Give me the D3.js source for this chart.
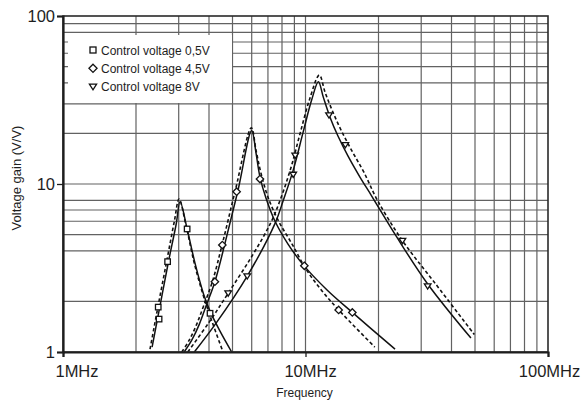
<!DOCTYPE html>
<html>
<head>
<meta charset="utf-8">
<script src="https://cdn.jsdelivr.net/npm/d3@7/dist/d3.min.js"></script>
<style>
    html, body { margin: 0; padding: 0; background: #fff; }
    #chart { width: 583px; height: 401px; }
    text { font-family: "Liberation Sans", Arial, sans-serif; fill: #1e1e1e; }
    .grid line { stroke: #626262; stroke-width: 1.2; }
    .axis path, .axis line { stroke: #1e1e1e; }
    .curve { fill: none; stroke: #111; stroke-width: 1.5; }
    .curve.dashed { stroke-dasharray: 3.5, 2.5; stroke-width: 1.6; }
    .marker { fill: #fff; stroke: #111; stroke-width: 1.3; }
</style>
</head>
<body>
<div id="chart"></div>
<script>

// frequencies in MHz, gain in V/V
const xTickValues = [1, 10, 100];
const xTickLabels = ["1MHz", "10MHz", "100MHz"];
const yTickValues = [1, 10, 100];
const yTickLabels = ["1", "10", "100"];

const xGridValues = [2, 3, 4, 5, 6, 7, 8, 9, 10, 20, 30, 40, 50, 60, 70, 80, 90];
const yGridValues = [2, 4, 5, 6, 7, 8, 10, 20, 30, 40, 50, 60, 70, 80, 90];

const seriesNames = ["Control voltage 0,5V", "Control voltage 4,5V", "Control voltage 8V"];
const markerTypes = ["square", "diamond", "triangle"];

// 0,5V
const solid05 = [[2.33, 1.07], [2.52, 1.93], [2.72, 3.43], [2.93, 5.78], [3.04, 7.85], [3.25, 5.4],
    [3.50, 3.39], [3.80, 2.21], [4.04, 1.75], [4.44, 1.33], [4.96, 1.0]];
const dashed05 = [[2.285, 1.04], [2.476, 1.93], [2.673, 3.43], [2.88, 6.02], [3.01, 8.14], [3.22, 5.62],
    [3.47, 3.43], [3.74, 2.31], [4.04, 1.64], [4.57, 1.0]];
const points05 = [[2.47, 1.85], [2.49, 1.57], [2.70, 3.45], [3.25, 5.4], [4.04, 1.70]];

// 4,5V
const solid45 = [[3.16, 1.0], [3.40, 1.18], [3.64, 1.45], [3.89, 1.88], [4.23, 2.62], [4.66, 4.46],
    [5.27, 9.21], [6.0, 20.8], [6.25, 15.3], [6.49, 11.0], [6.87, 8.26], [7.48, 6.02], [8.47, 4.39],
    [9.79, 3.30], [12.27, 2.34], [15.6, 1.72], [23.4, 1.04]];
const dashed45 = [[3.09, 1.0], [3.32, 1.18], [3.55, 1.45], [3.80, 1.88], [4.13, 2.62], [4.55, 4.46],
    [5.14, 9.21], [5.98, 21.6], [6.25, 15.9], [6.55, 11.63], [7.0, 8.37], [7.70, 6.11], [8.80, 4.39],
    [10.1, 3.08], [11.7, 2.31], [13.7, 1.78], [19.3, 1.07]];
const points45 = [[4.23, 2.62], [4.54, 4.33], [5.2, 9.0], [6.49, 10.7], [9.89, 3.26], [13.7, 1.78], [15.6, 1.72]];

// 8V
const solid8 = [[3.48, 1.0], [4.3, 1.5], [5.75, 2.83], [7.49, 5.83], [8.1, 8.0], [8.9, 12.1],
    [9.79, 20.5], [10.6, 31.6], [11.3, 40.6], [11.84, 32.9], [12.62, 25.0], [13.61, 19.3],
    [14.96, 14.7], [16.77, 11.0], [18.75, 8.48], [23.77, 4.84], [31.9, 2.54], [48.1, 1.21]];
const dashed8 = [[3.27, 1.0], [4.0, 1.5], [4.8, 2.24], [6.0, 3.7], [7.2, 5.9], [8.0, 8.6],
    [8.75, 12.8], [9.5, 20], [10.4, 32], [11.4, 44.5], [12.03, 35.3], [12.86, 27.6], [14.01, 20.96],
    [15.55, 15.72], [17.43, 11.71], [19.8, 8.0], [25.1, 4.6], [34.2, 2.57], [49.7, 1.27]];
const points8 = [[4.8, 2.24], [5.75, 2.83], [8.9, 11.4], [9.07, 14.8], [12.5, 25.7], [14.6, 17.1], [25.1, 4.6], [31.9, 2.47]];

const solidCurves = [solid05, solid45, solid8];
const dashedCurves = [dashed05, dashed45, dashed8];
const measuredPoints = [points05, points45, points8];

// label nudges, the original labels are not centred on their ticks
const xLabelShift = [13.5, 4.5, 1];


class makeGainChart {

    constructor(opts) {
        this.element = opts.element;
        this.update();
    }

    _setDimensions() {
        this.margin = {
            top: 16,
            right: 35,
            bottom: 49,
            left: 63
        };

        this.width = 583 - this.margin.left - this.margin.right;
        this.height = 401 - this.margin.top - this.margin.bottom;
    }

    update() {
        this._setDimensions();
        this.draw();
    }

    _marker(g, type, size) {
        let h = size / 2;
        if (type == "square") {
            g.append("rect")
                .attr("class", "marker")
                .attr("x", -h).attr("y", -h)
                .attr("width", size).attr("height", size);
        } else if (type == "diamond") {
            let d = h * 1.35;
            g.append("path")
                .attr("class", "marker")
                .attr("d", `M0,${-d}L${d},0L0,${d}L${-d},0Z`);
        } else {
            g.append("path")
                .attr("class", "marker")
                .attr("d", `M${-h * 1.2},${-h * 0.8}L${h * 1.2},${-h * 0.8}L0,${h * 1.1}Z`);
        }
    }

    draw() {
        this.element.innerHTML = "";

        this.svg = d3.select(this.element).append("svg")
            .attr("width", this.width + this.margin.left + this.margin.right)
            .attr("height", this.height + this.margin.top + this.margin.bottom);

        this.plot = this.svg.append("g")
            .attr("transform", `translate(${this.margin.left},${this.margin.top})`);

        this.x = d3.scaleLog().domain([1, 100]).range([0, this.width]);
        this.y = d3.scaleLog().domain([1, 100]).range([this.height, 0]);

        // grid
        let grid = this.plot.append("g").attr("class", "grid");

        grid.selectAll(".vgrid")
            .data(xGridValues)
            .enter().append("line")
            .attr("x1", d => this.x(d)).attr("x2", d => this.x(d))
            .attr("y1", 0).attr("y2", this.height);

        grid.selectAll(".hgrid")
            .data(yGridValues)
            .enter().append("line")
            .attr("x1", 0).attr("x2", this.width)
            .attr("y1", d => this.y(d)).attr("y2", d => this.y(d));

        // legend box sits on top of the grid, under the curves
        let legend = this.plot.append("g")
            .attr("transform", `translate(5,19)`);

        legend.append("rect")
            .attr("width", 164)
            .attr("height", 68)
            .attr("fill", "#fff");

        seriesNames.forEach((name, i) => {
            let row = legend.append("g")
                .attr("transform", `translate(25,${15 + i * 18.3})`);
            this._marker(row.append("g"), markerTypes[i], 6);
            row.append("text")
                .attr("x", 8)
                .attr("y", 4.5)
                .attr("font-size", "12px")
                .text(name);
        });

        // curves
        let line = d3.line()
            .x(d => this.x(d[0]))
            .y(d => this.y(d[1]))
            .curve(d3.curveCatmullRom.alpha(0.5));

        let curves = this.plot.append("g").attr("class", "curves");

        curves.selectAll(".dashed")
            .data(dashedCurves)
            .enter().append("path")
            .attr("class", "curve dashed")
            .attr("d", line);

        curves.selectAll(".solid")
            .data(solidCurves)
            .enter().append("path")
            .attr("class", "curve solid")
            .attr("d", line);

        measuredPoints.forEach((pts, i) => {
            pts.forEach(p => {
                let g = curves.append("g")
                    .attr("transform", `translate(${this.x(p[0])},${this.y(p[1])})`);
                this._marker(g, markerTypes[i], 5.5);
            });
        });

        // frame
        this.plot.append("rect")
            .attr("width", this.width)
            .attr("height", this.height)
            .attr("fill", "none")
            .attr("stroke", "#2a2a2a")
            .attr("stroke-width", 1.6);

        // axes
        let xAxis = d3.axisBottom(this.x)
            .tickValues(xTickValues)
            .tickFormat((d, i) => xTickLabels[i])
            .tickSize(5)
            .tickPadding(8.5);

        let xg = this.plot.append("g")
            .attr("class", "axis")
            .attr("transform", `translate(0,${this.height})`)
            .call(xAxis);

        xg.select(".domain").attr("stroke-width", 2.2);
        xg.selectAll(".tick line").attr("stroke-width", 1.3);
        xg.selectAll(".tick text")
            .attr("font-size", "16.5px")
            .attr("dx", (d, i) => xLabelShift[i]);

        let yAxis = d3.axisLeft(this.y)
            .tickValues(yTickValues)
            .tickFormat((d, i) => yTickLabels[i])
            .tickSize(6)
            .tickPadding(2);

        let yg = this.plot.append("g")
            .attr("class", "axis")
            .call(yAxis);

        yg.select(".domain").attr("stroke-width", 2.2);
        yg.selectAll(".tick line").attr("stroke-width", 1.3);
        yg.selectAll(".tick text")
            .attr("font-size", "16.5px");

        this.svg.selectAll(".axis text").attr("fill", "#1e1e1e");

        // axis titles
        this.svg.append("text")
            .attr("x", this.margin.left + this.x(10) - 1)
            .attr("y", 397)
            .attr("text-anchor", "middle")
            .attr("font-size", "12px")
            .text("Frequency");

        this.svg.append("text")
            .attr("transform", `translate(21,178) rotate(-90)`)
            .attr("text-anchor", "middle")
            .attr("font-size", "13px")
            .text("Voltage gain (V/V)");
    }
}

new makeGainChart({ element: document.getElementById("chart") });

</script>
</body>
</html>
